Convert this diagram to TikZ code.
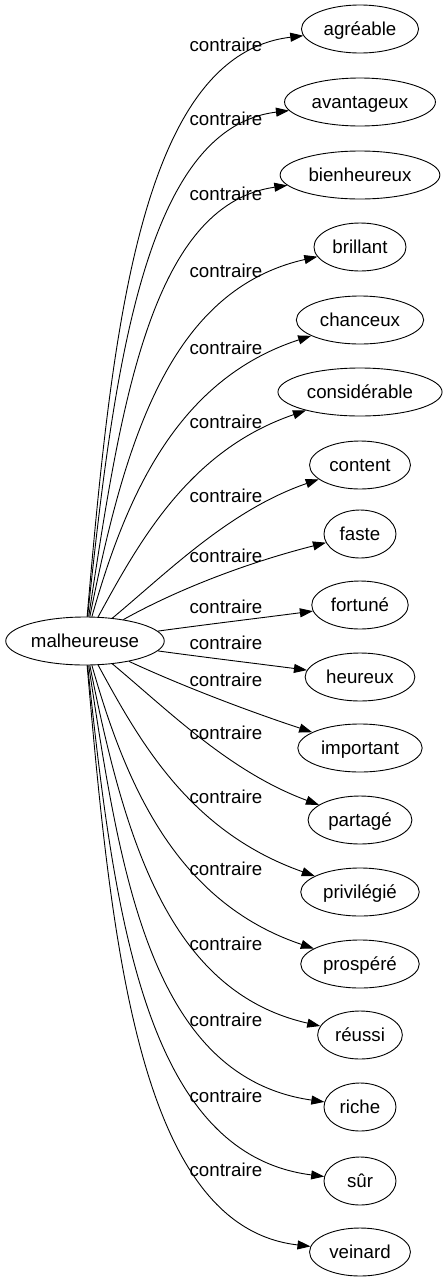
\documentclass[tikz,border=0pt]{standalone}
\usepackage{fontspec}
\setmainfont{Liberation Sans}
\usetikzlibrary{arrows.meta,shapes.geometric}

\begin{document}
\begin{tikzpicture}[x=1pt,y=-1pt,>={Triangle[length=13pt,width=9pt]},line width=0.9pt,font=\fontsize{18.7}{22}\selectfont,
  word/.style={draw,ellipse,inner xsep=5pt,inner ysep=0pt,minimum width=72pt,minimum height=48pt,text height=14pt,text depth=1pt},
  rel/.style={inner sep=0pt,text height=14pt,text depth=1pt}]
\useasboundingbox (0,0) rectangle (446,1283);
\node[word,inner xsep=2pt] (malheureuse) at (85,641) {malheureuse};
\node[word] (agreable) at (360,29) {agréable};
\node[word] (avantageux) at (360,102) {avantageux};
\node[word] (bienheureux) at (360,175) {bienheureux};
\node[word] (brillant) at (360,247) {brillant};
\node[word] (chanceux) at (360,320) {chanceux};
\node[word] (considerable) at (360,392) {considérable};
\node[word] (content) at (360,465) {content};
\node[word] (faste) at (360,534) {faste};
\node[word] (fortune) at (360,605) {fortuné};
\node[word] (heureux) at (360,677) {heureux};
\node[word] (important) at (360,748) {important};
\node[word] (partage) at (360,820) {partagé};
\node[word] (privilegie) at (360,892) {privilégié};
\node[word] (prospere) at (360,964) {prospéré};
\node[word] (reussi) at (360,1035) {réussi};
\node[word] (riche) at (360,1107) {riche};
\node[word] (sur) at (360,1181) {sûr};
\node[word] (veinard) at (360,1252) {veinard};
\node[rel] (c1) at (226,45) {contraire};
\node[rel] (c2) at (226,119) {contraire};
\node[rel] (c3) at (226,194) {contraire};
\node[rel] (c4) at (226,271) {contraire};
\node[rel] (c5) at (226,348) {contraire};
\node[rel] (c6) at (226,422) {contraire};
\node[rel] (c7) at (226,496) {contraire};
\node[rel] (c8) at (226,556) {contraire};
\node[rel] (c9) at (226,607) {contraire};
\node[rel] (c10) at (226,643) {contraire};
\node[rel] (c11) at (226,680) {contraire};
\node[rel] (c12) at (226,733) {contraire};
\node[rel] (c13) at (226,797) {contraire};
\node[rel] (c14) at (226,869) {contraire};
\node[rel] (c15) at (226,944) {contraire};
\node[rel] (c16) at (226,1020) {contraire};
\node[rel] (c17) at (226,1096) {contraire};
\node[rel] (c18) at (226,1170) {contraire};
\draw[->] (malheureuse) .. controls (112,330) and (140,55) .. (agreable);
\draw[->] (malheureuse) .. controls (114,367) and (145,128) .. (avantageux);
\draw[->] (malheureuse) .. controls (120,410) and (150,205) .. (bienheureux);
\draw[->] (malheureuse) .. controls (125,440) and (170,290) .. (brillant);
\draw[->] (malheureuse) .. controls (125,500) and (175,380) .. (chanceux);
\draw[->] (malheureuse) .. controls (140,540) and (190,450) .. (considerable);
\draw[->] (malheureuse) .. controls (170,570) and (230,510) .. (content);
\draw[->] (malheureuse) .. controls (180,588) and (250,562) .. (faste);
\draw[->] (malheureuse) .. controls (210,624) and (260,618) .. (fortune);
\draw[->] (malheureuse) .. controls (210,658) and (260,664) .. (heureux);
\draw[->] (malheureuse) .. controls (180,685) and (245,710) .. (important);
\draw[->] (malheureuse) .. controls (170,712) and (230,772) .. (partage);
\draw[->] (malheureuse) .. controls (140,742) and (190,832) .. (privilegie);
\draw[->] (malheureuse) .. controls (125,782) and (175,902) .. (prospere);
\draw[->] (malheureuse) .. controls (125,842) and (170,992) .. (reussi);
\draw[->] (malheureuse) .. controls (120,872) and (150,1077) .. (riche);
\draw[->] (malheureuse) .. controls (114,915) and (145,1154) .. (sur);
\draw[->] (malheureuse) .. controls (112,952) and (140,1227) .. (veinard);
\end{tikzpicture}
\end{document}
